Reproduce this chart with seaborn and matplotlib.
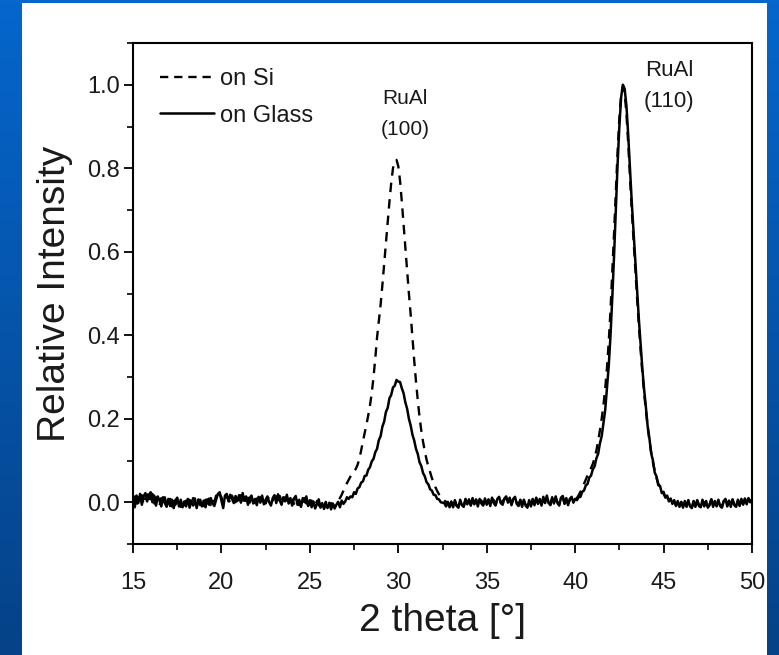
import numpy as np
import pandas as pd
import matplotlib
matplotlib.use("Agg")
import matplotlib.pyplot as plt
import seaborn as sns
from matplotlib.ticker import MultipleLocator

# ---- data ----
two_theta = np.linspace(15.0, 50.0, 351)  # measurement grid, 0.1 deg step

on_glass = [
    0.004, -0.012, 0.016, -0.002, 0.020, -0.006, 0.014, 0.022, 0.002, 0.018,
    0.024, 0.000, 0.016, -0.008, 0.014, 0.004, -0.010, 0.012, -0.002, -0.011,
    0.008, -0.009, 0.006, -0.014, 0.004, 0.011, -0.010, 0.006, -0.012, 0.002,
    -0.010, 0.008, -0.013, 0.004, -0.008, 0.009, -0.014, 0.003, 0.006, -0.010,
    0.004, -0.012, 0.007, -0.006, 0.010, -0.003, -0.009, 0.006, 0.020, 0.024,
    0.004, -0.014, 0.016, 0.020, 0.002, 0.018, 0.008, -0.002, 0.015, 0.003,
    0.017, -0.001, 0.022, 0.004, 0.014, -0.006, 0.010, 0.016, -0.003, 0.008,
    -0.007, 0.013, -0.001, 0.016, -0.005, 0.006, 0.014, 0.000, -0.008, 0.010,
    0.017, -0.002, 0.019, 0.004, -0.006, 0.012, 0.002, 0.018, -0.003, 0.010,
    -0.008, 0.009, 0.015, -0.006, 0.006, -0.011, 0.010, 0.000, 0.014, -0.009,
    0.005, -0.012, 0.002, -0.015, -0.004, 0.007, -0.013, -0.002, -0.016, -0.004,
    -0.014, -0.001, -0.017, -0.003, -0.015, -0.006, 0.001, -0.012, 0.004, -0.004,
    0.002, 0.012, 0.008, 0.014, 0.012, 0.024, 0.020, 0.033, 0.036, 0.047,
    0.050, 0.063, 0.064, 0.078, 0.084, 0.098, 0.104, 0.120, 0.128, 0.149,
    0.158, 0.181, 0.193, 0.216, 0.226, 0.249, 0.257, 0.275, 0.279, 0.293,
    0.289, 0.288, 0.273, 0.261, 0.239, 0.224, 0.200, 0.184, 0.162, 0.148,
    0.128, 0.116, 0.096, 0.087, 0.070, 0.062, 0.048, 0.043, 0.031, 0.028,
    0.018, 0.017, 0.008, 0.007, 0.000, -0.001, -0.002, -0.010, 0.001, -0.012,
    0.002, -0.012, 0.005, -0.009, -0.013, 0.006, -0.007, -0.011, 0.008, -0.005,
    0.007, -0.008, 0.010, -0.005, 0.006, -0.010, 0.008, -0.003, -0.008, 0.009,
    -0.006, 0.007, -0.009, 0.011, -0.002, -0.008, 0.008, 0.013, -0.002, -0.006,
    0.009, 0.014, -0.001, 0.011, -0.007, 0.008, 0.013, -0.004, -0.009, 0.006,
    -0.011, 0.006, -0.008, -0.013, 0.005, -0.010, 0.008, -0.007, 0.011, -0.004,
    0.008, -0.008, 0.013, -0.002, 0.016, -0.001, -0.007, 0.012, -0.003, 0.014,
    -0.002, -0.008, 0.011, 0.015, -0.004, 0.010, -0.007, 0.008, 0.013, -0.001,
    0.008, 0.005, 0.012, 0.013, 0.025, 0.028, 0.040, 0.044, 0.059, 0.064,
    0.079, 0.086, 0.105, 0.116, 0.141, 0.158, 0.190, 0.221, 0.274, 0.327,
    0.400, 0.490, 0.590, 0.700, 0.810, 0.900, 0.970, 1.000, 0.990, 0.950,
    0.880, 0.800, 0.720, 0.650, 0.580, 0.510, 0.440, 0.380, 0.320, 0.270,
    0.228, 0.182, 0.153, 0.117, 0.100, 0.071, 0.062, 0.041, 0.039, 0.022,
    0.025, 0.011, 0.016, 0.002, 0.009, -0.004, 0.005, -0.009, 0.003, -0.011,
    0.001, -0.013, 0.003, -0.011, 0.005, -0.010, -0.014, 0.003, -0.011, 0.005,
    -0.009, -0.012, 0.006, -0.010, 0.003, -0.013, -0.007, 0.007, -0.011, 0.003,
    -0.010, 0.006, -0.009, -0.013, 0.003, 0.008, -0.010, 0.004, -0.011, 0.007,
    -0.007, -0.011, 0.006, -0.009, 0.008, -0.006, 0.009, -0.005, 0.010, 0.000,
    0.006,
]

on_si = [
    0.000, 0.014, -0.008, 0.012, 0.002, 0.017, -0.006, 0.009, 0.019, 0.000,
    0.015, 0.020, -0.003, 0.012, 0.001, -0.008, 0.010, -0.002, 0.012, -0.007,
    0.005, 0.008, -0.010, 0.007, -0.006, 0.003, 0.010, -0.011, 0.007, -0.007,
    0.004, -0.010, 0.006, -0.009, 0.010, -0.005, -0.011, 0.007, -0.007, 0.003,
    -0.009, 0.006, -0.004, 0.009, -0.007, 0.007, 0.001, 0.016, 0.007, 0.019,
    0.012, -0.002, 0.009, 0.015, 0.006, 0.000, 0.016, 0.004, 0.000, 0.014,
    0.005, 0.017, -0.002, 0.012, 0.001, 0.015, -0.001, 0.009, 0.014, -0.002,
    0.009, -0.004, 0.012, 0.002, 0.010, -0.003, 0.007, 0.013, -0.002, 0.005,
    0.011, 0.014, -0.001, 0.015, 0.003, -0.002, 0.012, 0.004, 0.014, 0.000,
    0.006, -0.004, 0.010, 0.002, -0.007, 0.006, -0.001, 0.010, -0.003, 0.006,
    -0.006, 0.004, -0.009, -0.008, 0.003, -0.007, -0.011, -0.002, -0.012, 0.001,
    -0.010, -0.012, -0.002, -0.011, -0.007, 0.000, 0.004, 0.010, 0.018, 0.028,
    0.038, 0.046, 0.054, 0.062, 0.068, 0.074, 0.080, 0.090, 0.104, 0.124,
    0.146, 0.166, 0.186, 0.208, 0.232, 0.262, 0.300, 0.345, 0.395, 0.435,
    0.473, 0.520, 0.570, 0.620, 0.670, 0.720, 0.765, 0.800, 0.818, 0.820,
    0.805, 0.770, 0.720, 0.665, 0.610, 0.555, 0.500, 0.450, 0.395, 0.340,
    0.290, 0.245, 0.205, 0.172, 0.145, 0.122, 0.102, 0.086, 0.072, 0.058,
    0.046, 0.036, 0.027, 0.019, 0.013, 0.008, 0.004, 0.001, -0.002, -0.004,
    -0.006, -0.009, 0.003, -0.008, -0.010, 0.004, -0.005, -0.009, 0.006, -0.004,
    0.004, -0.007, 0.008, -0.003, 0.007, -0.007, 0.005, 0.004, -0.006, 0.007,
    -0.003, 0.006, -0.006, 0.008, 0.005, -0.005, 0.007, 0.009, -0.002, 0.003,
    0.007, 0.010, 0.001, 0.009, -0.004, 0.007, 0.010, -0.001, -0.006, 0.005,
    -0.007, 0.004, -0.006, -0.009, 0.003, -0.007, 0.006, -0.004, 0.008, -0.002,
    0.006, -0.005, 0.009, 0.000, 0.011, -0.002, -0.004, 0.009, -0.002, 0.010,
    0.000, -0.005, 0.008, 0.011, -0.002, 0.008, -0.004, 0.006, 0.010, 0.002,
    0.005, 0.010, 0.017, 0.025, 0.034, 0.044, 0.054, 0.064, 0.074, 0.082,
    0.092, 0.106, 0.124, 0.146, 0.172, 0.200, 0.232, 0.272, 0.322, 0.385,
    0.460, 0.550, 0.645, 0.745, 0.840, 0.920, 0.975, 0.995, 0.980, 0.930,
    0.860, 0.780, 0.700, 0.630, 0.560, 0.490, 0.425, 0.365, 0.310, 0.262,
    0.220, 0.182, 0.148, 0.120, 0.095, 0.075, 0.058, 0.045, 0.035, 0.027,
    0.020, 0.013, 0.013, 0.004, 0.007, -0.002, 0.003, -0.007, 0.002, -0.008,
    0.000, -0.010, 0.003, -0.009, 0.004, -0.008, -0.011, 0.002, -0.009, 0.005,
    -0.006, -0.010, 0.006, -0.008, 0.002, -0.011, -0.005, 0.007, -0.009, 0.002,
    -0.008, 0.006, -0.007, -0.010, 0.002, 0.007, -0.008, 0.003, -0.009, 0.006,
    -0.005, -0.009, 0.006, -0.007, 0.007, -0.005, 0.008, -0.004, 0.009, 0.002,
    0.005,
]

series_labels = ["on Si", "on Glass"]
peak_labels = [("RuAl", "(100)"), ("RuAl", "(110)")]
peak_label_x = [30.4, 45.3]
peak_label_y = [(0.968, 0.894), (1.035, 0.961)]
peak_label_size = [15, 16]
x_ticks = [15, 20, 25, 30, 35, 40, 45, 50]
y_ticks = [0.0, 0.2, 0.4, 0.6, 0.8, 1.0]

assert len(on_glass) == len(two_theta) == len(on_si)

df = pd.DataFrame({"two_theta": two_theta, "on_si": on_si, "on_glass": on_glass})

# ---- figure ----
sns.set_theme(style="white")
plt.rcParams["font.family"] = ["Liberation Sans", "DejaVu Sans"]
TXT = "#1a1a1a"

W, H = 779, 655
fig = plt.figure(figsize=(W / 100, H / 100), dpi=100)

# background: blue gradient frame with white panel
bg = fig.add_axes([0, 0, 1, 1], zorder=-10)
top = np.array([0.02, 0.40, 0.80])
bot = np.array([0.02, 0.26, 0.53])
t = np.linspace(0, 1, 200)[:, None]
grad = (top[None, :] * (1 - t) + bot[None, :] * t)[:, None, :]
grad = np.repeat(grad, 2, axis=1)
bg.imshow(grad, aspect="auto", extent=[0, 1, 0, 1], origin="upper")
bg.add_patch(plt.Rectangle((22 / W, 0), (767 - 22) / W, (H - 3) / H,
                           facecolor="white", edgecolor="none"))
bg.set_xlim(0, 1)
bg.set_ylim(0, 1)
bg.axis("off")

ax = fig.add_axes([133 / W, (H - 544) / H, (752 - 133) / W, (544 - 43) / H])
ax.set_facecolor("white")

sns.lineplot(data=df, x="two_theta", y="on_si", ax=ax, color="black",
             linewidth=1.7, linestyle=(0, (4, 3)), label=series_labels[0],
             estimator=None)
sns.lineplot(data=df, x="two_theta", y="on_glass", ax=ax, color="black",
             linewidth=1.8, label=series_labels[1], estimator=None)

ax.set_xlim(15, 50)
ax.set_ylim(-0.1, 1.1)
ax.set_xticks(x_ticks)
ax.set_yticks(y_ticks)
ax.xaxis.set_minor_locator(MultipleLocator(2.5))
ax.yaxis.set_minor_locator(MultipleLocator(0.1))
ax.set_xticklabels([str(v) for v in x_ticks])
ax.set_yticklabels([f"{v:.1f}" for v in y_ticks])
ax.tick_params(which="both", direction="out", bottom=True, left=True,
               top=False, right=False, colors="black", labelsize=17,
               labelcolor=TXT)
ax.tick_params(which="major", length=6.5, width=1.3)
ax.tick_params(which="minor", length=4, width=1.2)
ax.tick_params(axis="x", which="major", pad=14)
ax.tick_params(axis="y", which="major", pad=3)
for sp in ax.spines.values():
    sp.set_color("black")
    sp.set_linewidth(1.5)

ax.set_xlabel("2 theta [°]", fontsize=28, color=TXT, labelpad=6)
ax.set_ylabel("Relative Intensity", fontsize=28, color=TXT, labelpad=10)

for (l1, l2), px, (y1, y2), fs in zip(peak_labels, peak_label_x, peak_label_y,
                                      peak_label_size):
    ax.text(px, y1, l1, ha="center", va="center", fontsize=fs, color=TXT)
    ax.text(px, y2, l2, ha="center", va="center", fontsize=fs, color=TXT)

leg = ax.legend(loc="upper left", frameon=False, fontsize=17,
                handlelength=2.3, handletextpad=0.25, labelspacing=0.62,
                borderaxespad=0, borderpad=0,
                bbox_to_anchor=(0.043, 0.95))
for txt in leg.get_texts():
    txt.set_color(TXT)
leg.get_lines()[0].set_linestyle((0, (3.5, 2.5)))

fig.savefig("out.png", dpi=100)
